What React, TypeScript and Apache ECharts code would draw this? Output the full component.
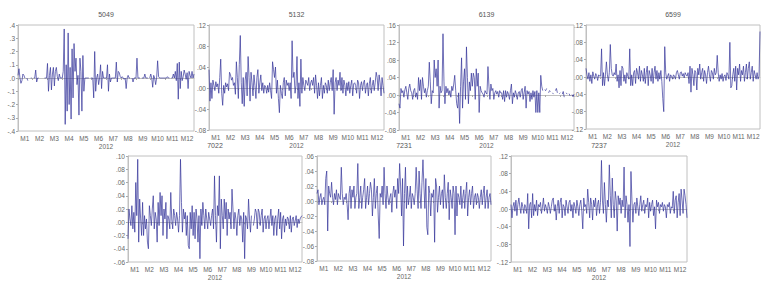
import React, { useEffect, useRef } from "react";
import * as echarts from "echarts";

const MONTHS = ["M1", "M2", "M3", "M4", "M5", "M6", "M7", "M8", "M9", "M10", "M11", "M12"];
const PER_MONTH = 15;
const DAYS = MONTHS.flatMap((m) => Array.from({ length: PER_MONTH }, (_, i) => `${m}-${i + 1}`));
const YEAR_LABEL = "2012";

const S5049 = [
  0.02, 0.07, 0, -0.04, -0.02, 0.03, 0.02, 0, null, 0, -0.02, null, null, 0, 0,
  null, 0, 0, 0.06, -0.03, 0, 0, null, null, null, null, null, 0, 0, 0,
  0.11, -0.10, 0.02, 0.08, -0.09, 0.03, 0.08, -0.06, 0.05, 0.08, 0.01, -0.02, 0.03, 0, 0,
  0, 0.05, 0.37, -0.35, 0.10, -0.25, 0.34, -0.20, 0.08, -0.31, 0.22, -0.15, 0.26, 0.05, 0.15,
  -0.05, 0.02, -0.28, 0.15, 0.05, -0.25, 0.17, -0.10, 0, 0, 0, 0, 0, null, 0,
  0, 0, -0.15, 0.20, -0.10, 0, 0.03, -0.05, 0, 0.10, -0.08, 0.05, 0, 0, 0,
  0, 0.10, -0.10, 0.03, -0.03, 0, 0, 0, 0, 0, 0.12, -0.03, 0.05, 0.04, 0.01,
  0, 0.01, 0, -0.01, 0, -0.08, 0, 0.02, 0, 0, null, 0, -0.03, 0, 0,
  0, 0.15, 0, 0, 0, null, 0, 0, 0, 0.03, 0, 0, 0, null, 0,
  0.03, 0, -0.07, 0.02, 0, -0.05, 0, 0.13, 0.01, 0, 0, 0, 0, 0, 0,
  0, 0, 0.01, 0, 0, null, 0, 0, 0.03, 0, 0.05, -0.02, 0.11, -0.16, 0.12,
  -0.08, 0.05, -0.02, 0.01, 0.06, 0.03, -0.01, 0.04, -0.08, 0.05, 0.02, 0, 0.05, 0, 0.03,
];

const S5132 = [
  0.035, -0.025, 0.01, -0.02, 0.015, 0.005, -0.005, 0.012, 0.002, 0.008, -0.01, 0.02, 0.055, -0.01, -0.033,
  0.005, -0.01, 0.01, 0.002, 0.008, -0.005, 0.03, 0.025, 0.015, 0.02, 0.005, 0.01, -0.012, 0.05, 0.02,
  -0.02, 0.045, 0.10, 0.01, -0.03, 0.02, -0.035, 0.015, 0.03, -0.015, 0.06, 0.02, -0.025, 0.03, 0.01,
  -0.015, 0.025, 0.005, -0.02, 0.02, 0.035, -0.01, 0.01, 0.025, -0.005, 0.01, -0.01, 0.005, 0.002, -0.01,
  0.005, -0.008, 0.01, -0.005, -0.02, 0.05, 0.035, 0.02, 0.04, -0.01, 0.015, -0.02, -0.047, 0.005, -0.01,
  -0.02, 0.01, 0.02, -0.015, 0.015, 0.005, 0.01, -0.005, 0.01, -0.02, 0.09, 0.02, 0.03, -0.01, 0.005,
  0.06, -0.02, 0.01, -0.035, 0.055, -0.01, 0.02, 0.005, -0.005, 0.015, 0.01, 0.005, 0.02, -0.005, 0.01,
  0.015, 0.005, 0.02, -0.01, 0.025, 0.005, -0.02, 0.01, -0.015, 0.005, 0.02, -0.02, 0.005, -0.01, 0.01,
  0.005, -0.01, 0.015, -0.005, 0.01, 0.02, -0.005, 0.035, -0.05, 0.01, 0.02, -0.005, 0.015, 0.005, 0.03,
  -0.005, 0.02, -0.01, 0.015, 0.005, -0.015, 0.01, -0.005, 0.012, -0.01, 0.005, 0.015, -0.015, 0.008, 0.01,
  0.005, -0.01, 0.015, 0.01, -0.02, 0.005, 0.012, -0.005, 0.01, 0.015, -0.01, 0.005, 0.01, -0.015, 0.008,
  0.02, -0.01, 0.005, 0.015, -0.005, 0.01, 0.03, 0.02, -0.005, 0.025, 0.01, -0.015, 0.02, 0.005, -0.01,
];

const S6139 = [
  -0.02, -0.03, 0.015, 0.005, 0.01, -0.005, 0.012, 0.02, 0.005, -0.01, 0.015, 0.025, 0.01, 0.005, -0.01,
  0.01, 0.015, -0.005, 0.005, -0.01, 0.04, 0.01, 0.035, -0.01, 0.04, 0.02, 0.005, 0.015, -0.005, 0.01,
  0.02, 0.075, 0.03, -0.02, 0.01, 0.005, 0.08, 0.04, 0.06, 0.02, 0.08, -0.03, 0.02, 0.005, 0.01,
  0.14, 0.03, -0.02, 0.02, 0.005, 0.015, 0, 0.01, -0.005, 0.02, 0.01, 0.025, 0.045, 0.01, -0.02,
  -0.03, 0.005, -0.065, 0.02, 0.085, -0.03, 0.03, 0.06, -0.01, 0.11, 0.04, -0.02, 0.03, 0.01, 0.05,
  0.02, 0.05, 0.04, -0.01, 0.06, 0.02, 0.05, -0.04, 0.02, 0.01, 0.005, 0.002, -0.005, 0.01, 0.005,
  0.002, 0.065, 0.02, -0.01, 0.025, 0.01, 0.015, -0.01, 0.005, 0.01, 0.002, 0.008, -0.005, 0.01, 0.005,
  0.005, -0.01, 0.01, -0.015, 0.01, -0.005, 0.008, 0.002, -0.01, 0.01, 0.025, -0.02, 0.005, -0.005, 0.01,
  0.002, -0.01, 0.005, 0.008, -0.005, 0.01, 0.015, -0.01, 0.005, 0.02, -0.03, 0.01, 0.002, 0.008, -0.015,
  0.005, -0.01, 0.01, -0.005, 0.008, -0.04, 0.01, -0.04, 0.005, -0.04, 0.045, 0.02, 0.01, null, 0.012,
  0.01, 0.015, null, 0.005, 0.01, 0.008, null, 0.005, 0.002, null, 0.01, 0.015, 0.005, null, 0.003,
  0.005, null, 0.002, 0.008, -0.005, null, 0.005, 0.002, null, 0.003, -0.002, null, 0.001, -0.004, 0.002,
];

const S6599 = [
  0.02, 0.005, -0.005, 0.01, -0.01, 0.005, -0.015, 0.012, 0.002, -0.005, 0.008, 0.003, -0.008, 0.005, 0.002,
  0.002, 0.065, -0.02, 0.01, -0.02, 0.005, 0.035, 0.005, -0.01, 0.01, 0.075, 0.02, 0.005, 0.002, 0.01,
  0.005, 0.03, -0.01, 0.005, -0.025, 0.015, -0.02, 0.025, 0.02, -0.01, 0.005, -0.015, 0.01, 0.002, -0.005,
  0.065, -0.02, 0.005, -0.02, 0.01, 0.015, -0.015, 0.02, 0.01, -0.005, 0.025, -0.01, 0.015, 0.005, -0.01,
  0.02, -0.015, 0.01, 0.025, -0.02, 0.015, 0.005, -0.01, 0.02, -0.015, 0.01, 0.025, -0.005, 0.015, -0.01,
  0.01, -0.005, 0.015, -0.01, -0.05, -0.08, 0.07, 0.01, -0.005, 0.002, 0.008, -0.01, 0.005, 0.002, -0.005,
  0.005, 0.002, -0.005, 0.01, 0.015, 0.005, -0.005, 0.01, 0.012, 0.002, 0.008, -0.002, 0.01, 0.005, 0.002,
  0.01, -0.015, 0.025, -0.035, 0.02, 0.005, -0.02, 0.015, 0.01, -0.03, 0.02, 0.005, 0.03, -0.005, 0.01,
  0.02, -0.01, 0.015, 0.005, -0.015, 0.01, 0.025, 0.005, -0.01, 0.015, 0.01, -0.005, 0.02, 0.005, 0.01,
  0.05, 0.01, -0.01, 0.005, -0.005, 0.008, -0.01, 0.002, 0.005, -0.008, 0.01, 0.005, -0.005, 0.08, -0.025,
  -0.02, 0.005, 0.02, -0.01, 0.025, -0.03, 0.02, 0.005, 0.03, -0.01, 0.015, 0.005, 0.025, -0.01, 0.01,
  0.03, -0.005, 0.02, 0.035, -0.005, 0.01, 0.025, -0.01, 0.015, 0.005, -0.005, 0.01, -0.005, 0.002, 0.105,
];

const S7022 = [
  -0.025, 0.02, 0.005, -0.005, 0.025, -0.01, 0.015, -0.015, 0.06, 0.01, 0.095, -0.03, 0.035, 0.005, -0.02,
  0.03, -0.02, 0.01, -0.01, 0.005, -0.03, -0.04, 0.025, 0.01, -0.005, 0.02, 0.04, -0.01, 0.015, 0.005,
  -0.03, 0.03, -0.005, 0.045, 0.01, 0.04, -0.02, 0.02, 0.005, 0.03, -0.025, 0.01, 0.005, -0.01, 0.045,
  0.005, -0.01, 0.02, 0.01, -0.005, 0.015, 0.005, -0.015, 0.01, 0.095, 0.03, -0.015, 0.02, 0.005, 0.015,
  -0.02, 0.01, -0.035, -0.04, 0.015, -0.01, 0.025, -0.02, 0.015, -0.025, 0.02, 0.005, -0.03, 0.01, -0.055,
  0.02, -0.005, 0.03, 0.01, -0.01, 0.02, 0.005, -0.01, 0.015, 0.005, -0.005, 0.01, 0.02, -0.01, 0.07,
  0.01, -0.03, 0.025, 0.01, 0.07, -0.04, 0.035, 0.01, -0.01, 0.035, 0.005, 0.03, -0.02, 0.02, 0.005,
  0.015, -0.01, 0.05, 0.02, -0.01, 0.015, 0.005, -0.02, 0.01, 0.02, -0.005, 0.01, 0.005, -0.03, 0.015,
  -0.055, 0.01, 0.005, -0.01, 0.035, 0.005, -0.015, 0.01, null, -0.005, 0.005, 0.02, 0.015, -0.01, 0.02,
  0.015, -0.005, 0.01, 0.02, -0.015, 0.005, 0.01, -0.01, 0.005, 0.01, -0.01, 0.005, 0.02, -0.005, 0.01,
  -0.02, 0.005, 0.01, -0.02, 0.005, 0.02, -0.01, 0.015, -0.025, 0.005, 0.01, -0.015, 0.005, -0.005, 0.008,
  0.005, -0.01, 0.01, -0.015, 0.005, 0.008, -0.005, 0.002, 0.01, -0.008, 0.005, -0.002, 0.005, 0.008, 0.01,
];

const S7231 = [
  0.01, 0.015, -0.005, 0.005, 0.01, -0.005, 0.002, 0.005, -0.005, 0.03, 0.04, -0.04, 0.02, 0.01, 0.005,
  0.025, 0.005, -0.005, 0.01, 0.002, 0.015, -0.005, 0.01, 0.005, 0.002, 0.045, 0.01, -0.005, 0.005, 0.002,
  0.01, -0.005, -0.025, 0.01, 0.02, -0.01, 0.015, 0.005, 0.02, -0.01, 0.005, 0.01, 0.05, -0.01, 0.005,
  0.02, -0.01, 0.005, 0.015, 0.03, -0.01, 0.005, 0.02, -0.005, 0.01, 0.025, 0.015, -0.02, 0.005, 0.03,
  -0.01, 0.01, 0.02, -0.02, -0.05, 0.01, 0.005, 0.02, -0.005, 0.045, 0.01, -0.01, 0.02, 0.005, -0.005,
  0.005, 0.01, -0.015, 0.01, 0.02, 0.005, 0.015, -0.01, 0.03, 0.01, 0.05, 0.02, -0.02, 0.03, -0.06,
  0.01, 0.045, -0.01, 0.02, -0.005, 0.005, 0.02, -0.01, 0.01, 0.005, -0.005, 0.01, 0.045, 0.015, -0.01,
  0.04, 0.01, -0.01, 0.025, 0.055, 0.02, -0.01, 0.03, -0.035, -0.045, 0.02, 0.01, -0.02, 0.01, 0.005,
  0.015, -0.055, 0.03, 0.02, -0.015, 0.005, 0.02, -0.005, 0.01, 0.015, -0.01, 0.035, 0.005, -0.01, 0.01,
  0.025, -0.025, 0.015, 0.005, -0.01, 0.02, 0.01, -0.045, 0.02, -0.02, 0.01, 0.005, -0.005, 0.02, -0.01,
  0.005, 0.015, -0.01, 0.01, 0.025, -0.02, 0.005, 0.015, -0.005, 0.01, 0.02, -0.01, 0.005, 0.01, -0.005,
  0.01, 0.005, -0.01, 0.005, 0.015, -0.005, 0.01, 0.02, -0.01, 0.005, 0.015, -0.01, 0.005, 0.01, -0.005,
];

const S7237 = [
  0.01, -0.02, 0.005, 0.015, -0.005, 0.02, -0.015, 0.01, 0.025, 0.005, -0.01, 0.015, 0.005, -0.01, 0.01,
  0.005, -0.01, 0.035, -0.045, 0.01, 0.015, -0.02, 0.035, -0.015, 0.01, -0.005, 0.02, -0.015, 0.01, 0.005,
  0.015, -0.01, 0.005, 0.025, -0.005, 0.01, 0.002, -0.01, 0.015, 0.005, -0.01, 0.005, 0.02, 0.025, -0.005,
  0.01, -0.025, 0.005, 0.02, -0.01, 0.015, 0.025, -0.02, 0.01, 0.005, -0.015, 0.02, 0.005, -0.01, 0.015,
  0.02, -0.005, 0.01, -0.02, 0.015, 0.005, -0.01, 0.02, 0.005, -0.015, 0.01, 0.02, -0.005, -0.045, 0.025,
  0.005, 0.01, -0.01, 0.045, 0.015, -0.02, 0.025, 0.01, -0.025, 0.02, 0.005, 0.025, -0.015, 0.01, 0.02,
  -0.01, 0.015, 0.11, 0.02, -0.01, 0.06, 0.01, -0.03, 0.02, 0.005, 0.10, 0.03, -0.02, 0.07, 0.01,
  -0.02, 0.04, 0.02, -0.05, 0.03, 0.01, 0.025, -0.01, 0.02, 0.005, 0.095, -0.02, 0.03, 0.01, -0.03,
  0.01, -0.085, 0.085, 0.02, -0.03, 0.01, 0.015, -0.01, 0.025, 0.005, -0.015, 0.01, 0.03, -0.005, 0.01,
  0.02, -0.01, 0.01, 0.005, 0.025, -0.02, 0.015, -0.005, 0.01, 0.02, -0.015, 0.005, -0.045, 0.02, 0.005,
  0.015, -0.01, 0.01, 0.005, 0.015, -0.005, 0.01, 0.005, -0.02, 0.01, 0.005, 0.015, -0.01, 0.005, 0.002,
  0.04, -0.01, 0.02, 0.03, -0.02, 0.015, 0.035, -0.015, 0.045, 0.02, -0.01, 0.045, 0.03, 0.01, -0.02,
];

const PANELS = [
  { name: "5049", data: S5049, min: -0.4, max: 0.4, interval: 0.1, decimals: 1 },
  { name: "5132", data: S5132, min: -0.08, max: 0.12, interval: 0.04, decimals: 2 },
  { name: "6139", data: S6139, min: -0.08, max: 0.16, interval: 0.04, decimals: 2 },
  { name: "6599", data: S6599, min: -0.12, max: 0.12, interval: 0.04, decimals: 2 },
  { name: "7022", data: S7022, min: -0.06, max: 0.10, interval: 0.02, decimals: 2 },
  { name: "7231", data: S7231, min: -0.08, max: 0.06, interval: 0.02, decimals: 2 },
  { name: "7237", data: S7237, min: -0.12, max: 0.12, interval: 0.04, decimals: 2 },
];

const LAYOUT = [
  { left: 18, top: 25, width: 176, height: 106 },
  { left: 209, top: 25, width: 175, height: 105 },
  { left: 399, top: 25, width: 175, height: 105 },
  { left: 586, top: 25, width: 174, height: 104 },
  { left: 128, top: 156, width: 174, height: 106 },
  { left: 317, top: 156, width: 174, height: 105 },
  { left: 511, top: 156, width: 176, height: 106 },
];

const FONT = "'Liberation Sans', Arial, sans-serif";
const TEXT_COLOR = "#666";
const LINE_COLOR = "#34349a";
const FRAME_COLOR = "#c0c0c0";

function fmt(v: number, d: number) {
  const s = Math.abs(v).toFixed(d).replace(/^0/, "");
  return (v < -1e-9 ? "-" : "") + s;
}

export default function App() {
  const ref = useRef<HTMLDivElement>(null);
  useEffect(() => {
    if (!ref.current) return;
    const chart = echarts.init(ref.current, null, { renderer: "svg" });
    const grid = LAYOUT.map((g) => ({
      ...g,
      show: true,
      borderColor: FRAME_COLOR,
      borderWidth: 1,
      backgroundColor: "#fff",
      containLabel: false,
    }));
    const xAxis = PANELS.map((_, i) => ({
      type: "category",
      gridIndex: i,
      data: DAYS,
      boundaryGap: false,
      axisLine: { lineStyle: { color: FRAME_COLOR, width: 1 } },
      axisTick: {
        interval: (idx: number) => idx % PER_MONTH === 0,
        length: 2,
        lineStyle: { color: "#aaa" },
      },
      axisLabel: {
        interval: (idx: number) => idx % PER_MONTH === 7,
        formatter: (v: string) => v.split("-")[0],
        fontSize: 6.5,
        fontFamily: FONT,
        color: TEXT_COLOR,
        margin: 4,
      },
      splitLine: { show: false },
    }));
    const yAxis = PANELS.map((p, i) => ({
      type: "value",
      gridIndex: i,
      min: p.min,
      max: p.max,
      interval: p.interval,
      axisLine: { show: true, lineStyle: { color: FRAME_COLOR, width: 1 } },
      axisTick: { show: true, length: 2, lineStyle: { color: "#aaa" } },
      axisLabel: {
        formatter: (v: number) => fmt(v, p.decimals),
        fontSize: 6.5,
        fontFamily: FONT,
        color: TEXT_COLOR,
        margin: 3,
      },
      splitLine: { show: false },
    }));
    const series = PANELS.map((p, i) => ({
      type: "line",
      xAxisIndex: i,
      yAxisIndex: i,
      data: p.data,
      showSymbol: false,
      symbol: "none",
      connectNulls: false,
      lineStyle: { color: LINE_COLOR, width: 0.7 },
      emphasis: { disabled: true },
    }));
    const graphic: any[] = [];
    PANELS.forEach((p, i) => {
      const g = LAYOUT[i];
      const cx = g.left + g.width / 2;
      graphic.push({
        type: "text",
        x: cx,
        y: g.top - 11,
        style: {
          text: p.name,
          fontSize: 7,
          fontFamily: FONT,
          fill: "#555",
          textAlign: "center",
          textVerticalAlign: "middle",
        },
      });
      graphic.push({
        type: "text",
        x: cx,
        y: g.top + g.height + 15,
        style: {
          text: YEAR_LABEL,
          fontSize: 6.5,
          fontFamily: FONT,
          fill: TEXT_COLOR,
          textAlign: "center",
          textVerticalAlign: "middle",
        },
      });
    });
    chart.setOption({
      animation: false,
      backgroundColor: "#fff",
      grid,
      xAxis,
      yAxis,
      series,
      graphic,
    } as any);
    return () => chart.dispose();
  }, []);
  return (
    <div
      ref={ref}
      style={{ position: "fixed", left: 0, top: 0, width: 769, height: 288 }}
    />
  );
}
